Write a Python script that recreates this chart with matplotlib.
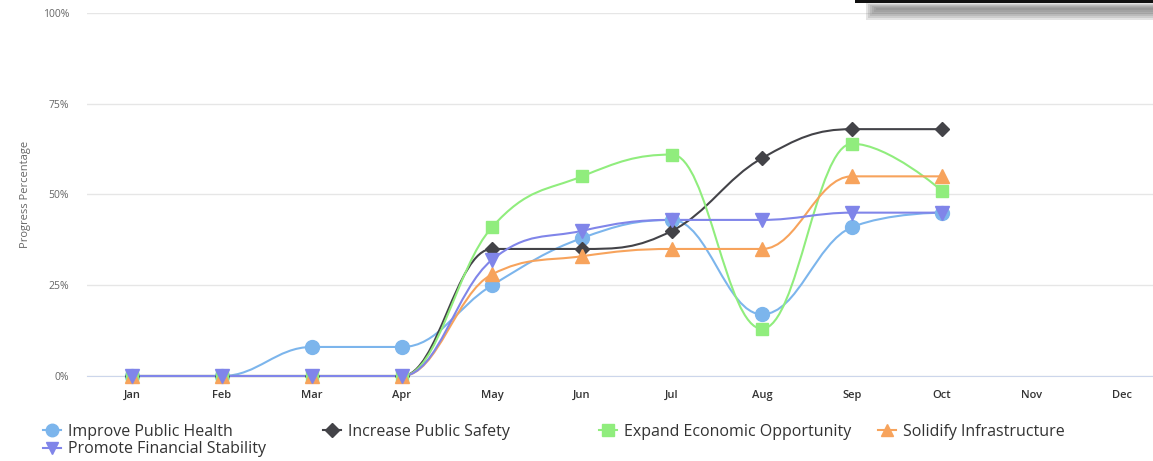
import matplotlib.pyplot as plt
from matplotlib.path import Path
from matplotlib.patches import PathPatch, Rectangle
from matplotlib.lines import Line2D

# Datos del grafico (Nov y Dec sin datos)
meses = ["Jan", "Feb", "Mar", "Apr", "May", "Jun", "Jul", "Aug", "Sep", "Oct", "Nov", "Dec"]
salud = [0, 0, 8, 8, 25, 38, 43, 17, 41, 45]
seguridad = [0, 0, 0, 0, 35, 35, 40, 60, 68, 68]
economia = [0, 0, 0, 0, 41, 55, 61, 13, 64, 51]
infraestructura = [0, 0, 0, 0, 28, 33, 35, 35, 55, 55]
finanzas = [0, 0, 0, 0, 32, 40, 43, 43, 45, 45]

series = [
    ("Improve Public Health", salud, "#7cb5ec", "o", 10),
    ("Increase Public Safety", seguridad, "#434348", "D", 7.5),
    ("Expand Economic Opportunity", economia, "#90ed7d", "s", 9),
    ("Solidify Infrastructure", infraestructura, "#f7a35c", "^", 10),
    ("Promote Financial Stability", finanzas, "#8085e9", "v", 10),
]

plt.rcParams['font.family'] = ['Open Sans', 'DejaVu Sans']


# Curva spline al estilo Highcharts (suavizado 1.5)
def curva_spline(xs, ys, suavizado=1.5):
    n = len(xs)
    izq = [(x, y) for x, y in zip(xs, ys)]
    der = [(x, y) for x, y in zip(xs, ys)]
    den = suavizado + 1
    for i in range(1, n - 1):
        px, py = xs[i], ys[i]
        lx, ly = xs[i - 1], ys[i - 1]
        nx, ny = xs[i + 1], ys[i + 1]
        lcx = (suavizado * px + lx) / den
        lcy = (suavizado * py + ly) / den
        rcx = (suavizado * px + nx) / den
        rcy = (suavizado * py + ny) / den
        corr = (rcy - lcy) * (rcx - px) / (rcx - lcx) + py - rcy
        lcy += corr
        rcy += corr
        if lcy > ly and lcy > py:
            lcy = max(ly, py)
            rcy = 2 * py - lcy
        elif lcy < ly and lcy < py:
            lcy = min(ly, py)
            rcy = 2 * py - lcy
        if rcy > ny and rcy > py:
            rcy = max(ny, py)
            lcy = 2 * py - rcy
        elif rcy < ny and rcy < py:
            rcy = min(ny, py)
            lcy = 2 * py - rcy
        izq[i] = (lcx, lcy)
        der[i] = (rcx, rcy)
    verts = [(xs[0], ys[0])]
    codes = [Path.MOVETO]
    for i in range(1, n):
        verts += [der[i - 1], izq[i], (xs[i], ys[i])]
        codes += [Path.CURVE4] * 3
    return Path(verts, codes)


fig = plt.figure(figsize=(11.53, 4.61), dpi=100)
ax = fig.add_axes([87 / 1153, 85 / 461, 1 - 87 / 1153, 363 / 461])

for nombre, valores, color, marca, tam in series:
    xs = list(range(len(valores)))
    ax.add_patch(PathPatch(curva_spline(xs, valores), facecolor='none',
                           edgecolor=color, lw=1.5, zorder=3, clip_on=False))
    ax.plot(xs, valores, linestyle='none', marker=marca, markersize=tam,
            color=color, zorder=4, clip_on=False)

ax.set_xlim(-0.5, (1153 - 132) / 90)
ax.set_ylim(0, 100)
ax.set_yticks([0, 25, 50, 75, 100])
ax.set_yticklabels(["0%", "25%", "50%", "75%", "100%"], color="#666666", fontsize=7.5)
ax.set_xticks(range(12))
ax.set_xticklabels(meses, color="#333333", fontsize=8, fontweight='semibold')
ax.tick_params(length=0, pad=10)
ax.tick_params(axis='y', pad=13)
ax.grid(axis='y', color='#e6e6e6', lw=1)
ax.set_axisbelow(True)
for lado in ['top', 'right', 'left']:
    ax.spines[lado].set_visible(False)
ax.spines['bottom'].set_color('#ccd6eb')
ax.set_ylabel("Progress Percentage", color="#666666", fontsize=8, labelpad=8)

# Leyenda en columnas como en la imagen
columnas = [([0, 4], 43), ([1], 323), ([2], 599), ([3], 878)]
for indices, xpix in columnas:
    manejadores = []
    for j in indices:
        nombre, valores, color, marca, tam = series[j]
        manejadores.append(Line2D([], [], color=color, lw=1.5, marker=marca,
                                  markersize=tam * 0.9, label=nombre))
    fig.legend(handles=manejadores, loc='upper left',
               bbox_to_anchor=(xpix / 1153, 1 - 424 / 461), frameon=False,
               fontsize=11.5, handlelength=1.1, handletextpad=0.45,
               labelspacing=0.08, borderaxespad=0, borderpad=0,
               labelcolor='#333333')

# Caja oscura superior derecha (sombra)
for k in range(6):
    fig.patches.append(Rectangle(((866 + k * 2) / 1153, 1 - (20 - k * 2) / 461),
                                 1, (17 - k * 3) / 461, transform=fig.transFigure,
                                 facecolor='#777777', alpha=0.2, lw=0))
fig.patches.append(Rectangle((855 / 1153, 1 - 3 / 461), 1, 3 / 461,
                             transform=fig.transFigure, facecolor='#111111', lw=0))

fig.savefig("out.png", dpi=100)
